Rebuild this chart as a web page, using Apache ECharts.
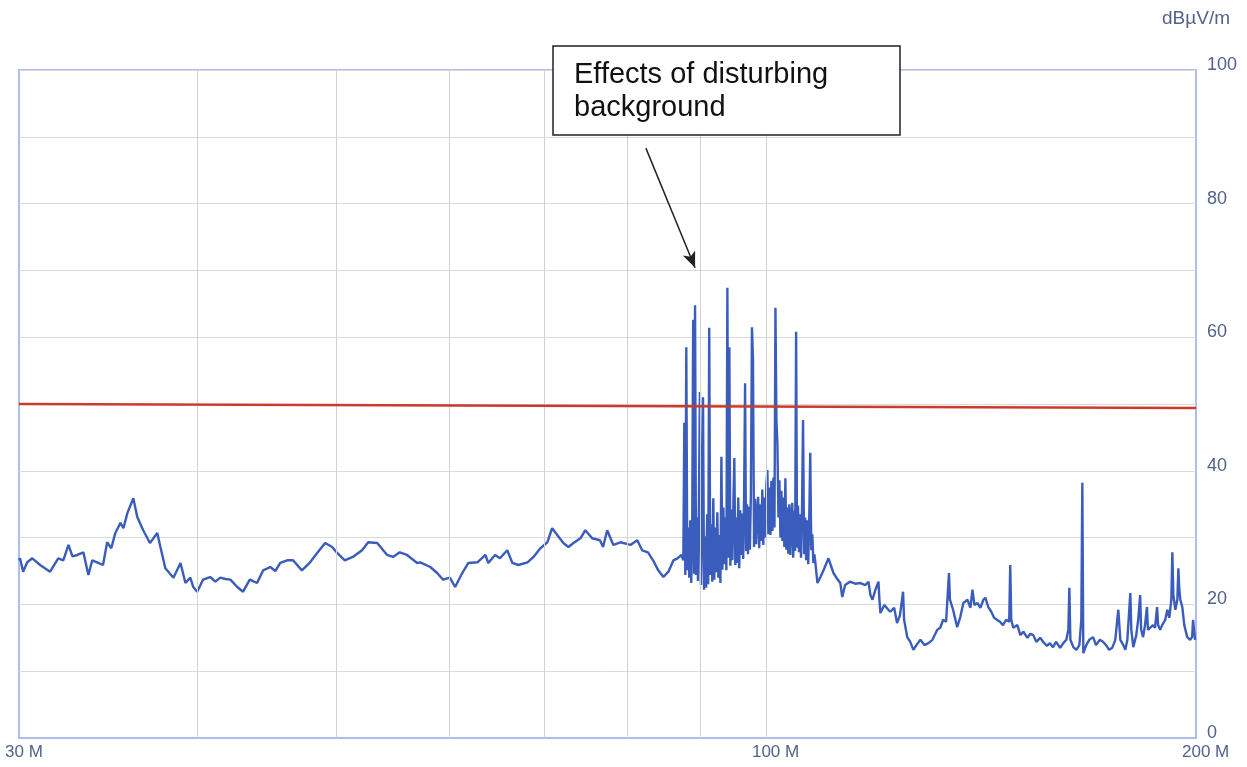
<!DOCTYPE html>
<html><head><meta charset="utf-8">
<script src="https://cdn.jsdelivr.net/npm/echarts@6/dist/echarts.min.js"></script>
<style>html,body{margin:0;padding:0;background:#fff}#c{width:1247px;height:767px}</style>
</head><body><div id="c"></div>
<script>
// Frequency in MHz, level in dBµV/m
const spectrum = [
[30.00,26.6],[30.05,26.9],[30.20,24.9],[30.40,26.3],[30.65,26.9],[31.04,25.9],[31.54,24.9],[31.96,26.9],[32.22,26.6],[32.49,28.9],[32.70,27.2],[32.96,27.4],[33.28,27.8],[33.55,24.4],[33.76,26.6],[34.02,26.3],[34.35,25.9],[34.58,29.3],[34.81,28.4],[35.04,30.7],[35.33,32.2],[35.50,31.4],[35.73,33.7],[36.07,35.9],[36.30,33.1],[36.65,31.1],[37.05,29.2],[37.49,30.7],[37.68,28.6],[37.98,25.4],[38.48,24.0],[38.92,26.2],[39.23,23.2],[39.54,24.0],[39.73,22.6],[39.98,21.9],[40.36,23.7],[40.83,24.1],[41.17,23.4],[41.50,24.0],[41.84,23.8],[42.18,23.7],[42.65,22.6],[43.05,21.9],[43.52,23.7],[44.03,23.2],[44.47,25.1],[44.98,25.6],[45.35,25.0],[45.71,26.2],[46.22,26.6],[46.66,26.6],[47.33,25.1],[47.96,26.3],[48.51,27.7],[49.14,29.2],[49.70,28.6],[50.10,27.7],[50.72,26.6],[51.38,27.1],[52.15,28.1],[52.67,29.3],[53.44,29.2],[54.30,27.4],[54.82,27.1],[55.42,27.8],[56.07,27.4],[57.00,26.2],
[57.28,26.3],[58.21,25.6],[58.86,24.7],[59.43,23.7],[60.08,24.0],[60.59,22.6],[61.29,24.7],[61.90,26.2],[62.81,26.3],[63.62,27.4],[63.92,26.2],[64.62,27.4],[65.13,26.9],[65.90,28.1],[66.45,26.2],[67.10,25.9],[68.09,26.3],[68.75,27.1],[69.51,28.4],[70.30,29.3],[70.84,31.4],[71.43,30.4],[72.14,29.2],[72.73,28.6],[73.33,29.2],[74.15,29.9],[74.74,31.1],[75.57,29.9],[76.52,29.6],[76.91,28.6],[77.42,31.1],[78.19,28.9],[79.09,29.3],[80.37,28.9],[81.27,29.6],[81.91,28.1],[82.68,27.8],[83.36,26.6],[84.06,25.1],[84.76,24.1],[85.45,24.9],[86.15,26.6],[86.71,26.9],[87.26,27.4],
[87.53,26.6],[87.67,47.2],[87.81,24.4],[87.95,58.5],[88.09,25.1],[88.23,31.5],[88.37,24.0],[88.51,32.6],[88.65,23.2],[88.79,31.1],[88.93,62.6],[89.06,24.6],[89.20,64.8],[89.34,24.4],[89.48,33.0],[89.62,23.5],[89.76,35.6],[89.90,51.8],
[90.05,22.9],[90.20,31.8],[90.35,51.0],[90.50,22.2],[90.65,30.2],[90.80,22.5],[90.96,33.5],[91.11,23.0],[91.26,61.4],[91.41,24.4],[91.56,32.0],[91.71,23.4],[91.86,35.9],[92.01,23.7],[92.16,31.5],[92.31,24.8],[92.46,33.8],[92.61,24.0],[92.77,30.4],[92.92,23.2],
[93.07,42.1],[93.22,25.2],[93.37,34.5],[93.52,26.0],[93.67,33.0],[93.82,25.1],[93.97,67.4],[94.12,27.0],[94.27,58.5],[94.42,25.8],[94.57,34.2],[94.73,26.6],[94.88,35.0],[95.03,41.9],[95.18,25.9],[95.33,33.0],[95.48,26.2],[95.63,36.0],[95.78,25.4],[95.93,34.1],
[96.08,27.4],[96.24,33.6],[96.39,26.8],[96.54,36.2],[96.69,53.1],[96.84,28.0],[96.99,35.0],[97.14,27.5],[97.29,34.6],[97.44,28.2],[97.60,36.5],[97.77,61.5],[97.93,56.6],[98.10,28.6],[98.26,35.8],[98.43,29.0],[98.59,34.0],[98.75,36.1],[98.92,28.4],[99.08,35.0],
[99.25,29.5],[99.41,37.2],[99.57,28.9],[99.74,36.0],[99.90,30.0],[100.07,38.0],[100.23,40.1],[100.39,30.5],[100.56,37.5],[100.72,30.4],[100.88,38.5],[101.05,31.0],[101.21,39.0],[101.38,31.5],[101.54,64.4],[101.70,47.6],[101.86,44.2],[102.03,33.0],[102.19,38.6],[102.36,30.0],
[102.52,37.0],[102.68,29.5],[102.85,36.0],[103.01,28.6],[103.18,38.9],[103.34,28.2],[103.50,34.5],[103.67,27.6],[103.83,35.0],[104.00,27.4],[104.16,33.0],[104.33,35.2],[104.49,27.0],[104.65,34.0],[104.81,28.0],[104.98,60.8],[105.14,28.5],[105.30,34.8],[105.47,27.8],[105.63,33.5],
[105.81,27.0],[105.98,34.0],[106.16,47.6],[106.34,27.5],[106.52,33.0],[106.69,26.6],[106.87,32.6],[107.05,26.0],[107.23,33.0],[107.40,42.7],[107.58,28.1],[107.76,30.5],[107.94,26.2],[108.12,27.5],[108.29,26.2],
[108.65,23.2],[109.18,24.1],[109.72,25.1],[110.60,26.9],[111.49,24.7],[112.02,24.0],[112.73,23.2],[113.08,21.1],[113.61,22.9],[114.50,23.4],
[115.46,23.1],[116.42,23.2],[117.38,22.9],[117.96,23.4],[118.34,21.4],[118.73,20.7],[119.30,22.2],[119.88,23.4],[120.07,20.7],[120.26,18.7],[121.03,19.9],[121.80,19.2],[122.18,18.9],[122.95,19.5],[123.53,17.2],[124.11,18.4],
[124.73,21.9],[124.94,17.7],[125.57,15.1],[126.19,14.4],[126.82,13.2],[127.44,13.9],[128.27,14.7],[129.11,13.9],[129.94,14.2],[130.77,14.7],[131.81,16.2],[132.44,16.5],[133.06,17.7],[133.69,17.4],[134.31,24.7],[134.52,20.7],
[135.20,19.2],[136.10,16.6],[136.78,18.1],[137.46,20.2],[138.36,20.7],[139.04,19.5],[139.49,22.2],[139.94,19.9],[140.62,20.2],[141.29,19.5],[141.97,20.7],[142.42,21.0],[143.10,19.6],[143.78,18.9],[144.45,18.0],[145.12,17.7],[145.80,17.4],
[146.53,16.9],[147.27,17.7],[148.00,17.4],[148.25,25.9],[148.49,17.7],[148.98,16.5],[149.96,16.9],[150.69,15.4],[151.43,15.9],[152.41,15.0],[153.14,15.6],[153.87,15.4],[154.61,14.4],[155.58,15.0],[156.31,14.4],[157.30,13.8],[158.03,14.2],
[158.83,13.6],[159.62,14.4],[160.68,13.5],[161.48,14.2],[162.28,14.7],[162.81,16.2],[163.07,22.5],[163.34,14.7],[164.13,13.6],[164.93,13.2],[165.72,13.9],[166.25,17.7],[166.52,38.2],[166.78,12.7],[167.58,13.9],[168.38,14.7],[169.44,15.1],[170.23,13.9],[171.29,14.7],
[172.15,14.4],[173.01,13.9],[173.88,13.2],[174.74,13.5],[175.60,14.7],[176.46,19.2],[177.04,14.7],[177.90,13.9],[178.47,13.2],[179.05,14.7],[179.91,21.7],[180.20,16.2],[180.78,13.6],[181.64,15.4],[182.21,17.7],[182.79,21.4],[183.07,16.2],[183.65,15.1],[184.22,16.9],[184.80,19.6],[185.09,16.2],[185.66,16.2],
[186.60,16.9],[187.22,16.5],[187.84,19.6],[188.15,16.9],[188.78,16.2],[189.40,16.9],[190.34,17.7],[190.96,19.2],[191.58,18.0],[192.20,20.7],[192.52,27.8],[192.83,21.4],[193.45,19.2],[194.08,20.7],[194.39,25.4],[194.70,22.2],[195.01,20.7],[195.64,19.6],[196.26,16.9],[197.19,15.1],[198.13,14.7],[198.75,15.1],[199.06,17.7],[199.69,14.7]
];
const limitFreq = [30, 200];
const limitLevel = [50.0, 49.4];
const gridFreqs = [40, 50, 60, 70, 80, 90, 100];
const arrowFrom = [82.4, 88.3];
const arrowTo = [89.2, 70.4];
const annotationText = 'Effects of disturbing\nbackground';
const unitText = 'dBµV/m';
const xRange = [30, 200];
const yRange = [0, 100];

const chart = echarts.init(document.getElementById('c'), null, {renderer: 'canvas'});
const labelColor = '#52628a';
const font = 'Liberation Sans, Arial, sans-serif';

chart.setOption({
  animation: false,
  backgroundColor: '#ffffff',
  grid: {left: 19, right: 51, top: 70, bottom: 29, show: true, borderColor: '#aebde9', borderWidth: 2, backgroundColor: 'transparent'},
  xAxis: {
    type: 'log', logBase: 10, min: xRange[0], max: xRange[1],
    axisLine: {show: true, lineStyle: {color: '#aebde9', width: 2}},
    axisTick: {show: false},
    splitLine: {show: false},
    axisLabel: {
      show: true, showMinLabel: true, showMaxLabel: true,
      color: labelColor, fontFamily: font, fontSize: 17, margin: 6,
      align: 'left', padding: [0, 0, 0, -14],
      formatter: v => Math.round(v) + ' M'
    }
  },
  yAxis: {
    type: 'value', position: 'right', min: yRange[0], max: yRange[1], interval: 10,
    name: unitText, nameLocation: 'end', nameGap: 42,
    nameTextStyle: {color: labelColor, fontFamily: font, fontSize: 19, align: 'center'},
    axisLine: {show: false}, axisTick: {show: false},
    splitLine: {show: true, lineStyle: {color: '#dadada', width: 1}},
    axisLabel: {
      color: labelColor, fontFamily: font, fontSize: 18, margin: 11,
      verticalAlign: 'bottom', lineHeight: 10,
      formatter: v => (v % 20 === 0 ? String(v) : '')
    }
  },
  series: [
    {
      type: 'line', data: [], z: 1, silent: true,
      markLine: {
        silent: true, symbol: ['none', 'none'], label: {show: false},
        lineStyle: {color: '#d2d2d2', width: 1, type: 'solid'},
        data: gridFreqs.map(f => ({xAxis: f}))
      }
    },
    {
      type: 'line', data: spectrum, z: 3, showSymbol: false, sampling: false,
      lineStyle: {color: '#3a5cbc', width: 2.4}, itemStyle: {color: '#3a5cbc'}
    },
    {
      type: 'line', data: [], z: 4, silent: true,
      markLine: {
        silent: true, symbol: ['none', 'none'], label: {show: false},
        lineStyle: {color: '#cc3a2c', width: 2.5, type: 'solid'},
        data: [[{coord: [limitFreq[0], limitLevel[0]]}, {coord: [limitFreq[1], limitLevel[1]]}]]
      }
    },
    {
      type: 'line', data: [], z: 5, silent: true,
      markLine: {
        silent: true, symbol: ['none', 'arrow'], symbolSize: [10, 16], label: {show: false},
        lineStyle: {color: '#222222', width: 1.5, type: 'solid'},
        data: [[{coord: arrowFrom}, {coord: arrowTo}]]
      }
    }
  ],
  graphic: [
    {type: 'rect', z: 100, zlevel: 1, shape: {x: 553, y: 46, width: 347, height: 89},
     style: {fill: '#ffffff', stroke: '#222222', lineWidth: 1.5}},
    {type: 'text', z: 101, zlevel: 1, x: 574, y: 58,
     style: {text: annotationText, font: '29px Liberation Sans, Arial, sans-serif', fill: '#111111',
             lineHeight: 33, verticalAlign: 'top', align: 'left'}}
  ]
});
</script>
</body></html>
